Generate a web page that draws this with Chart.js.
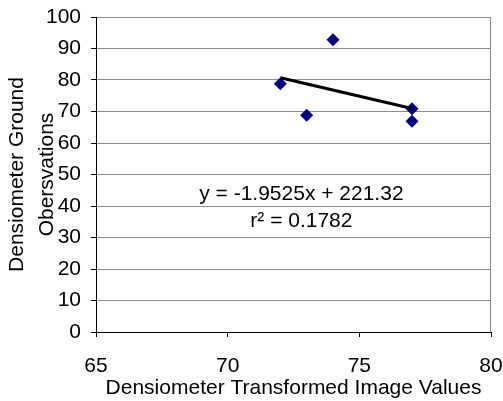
<!DOCTYPE html>
<html>
<head>
<meta charset="utf-8">
<title>Densiometer comparison</title>
<script src="https://cdn.jsdelivr.net/npm/chart.js@4/dist/chart.umd.min.js"></script>
<style>
  html, body { margin: 0; padding: 0; background: #ffffff; }
  #wrap { width: 503px; height: 401px; }
</style>
</head>
<body>
<div id="wrap"><canvas id="chart" width="503" height="401"></canvas></div>
<script>
// Image-derived densiometer values (x) against ground observations (y)
const imageValues = [72, 73, 74, 77, 77];
const groundValues = [78.8, 68.8, 92.8, 70.9, 66.9];

// Linear fit reported on the chart
const trendSlope = -1.9525;
const trendIntercept = 221.32;
const trendR2 = 0.1782;
const trendSpan = [72, 77];

// Axis ticks
const xTicks = [65, 70, 75, 80];
const yTicks = [0, 10, 20, 30, 40, 50, 60, 70, 80, 90, 100];

const xTitle = 'Densiometer Transformed Image Values';
const yTitle = ['Densiometer Ground', 'Obersvations'];

const FONT = '"Liberation Sans", Arial, Helvetica, sans-serif';
const GRID = '#8c8c8c';

const scatterPoints = imageValues.map((x, i) => ({ x: x, y: groundValues[i] }));
const trendPoints = trendSpan.map(x => ({ x: x, y: trendSlope * x + trendIntercept }));

const eqLines = [
  'y = ' + trendSlope + 'x + ' + trendIntercept,
  'r\u00B2 = ' + trendR2
];

// Gray frame on the right-hand side of the plot area
const plotFrame = {
  id: 'plotFrame',
  beforeDatasetsDraw(chart) {
    const { ctx, chartArea: a } = chart;
    ctx.save();
    ctx.strokeStyle = GRID;
    ctx.lineWidth = 1;
    ctx.beginPath();
    const rx = Math.round(a.right) - 0.5;
    ctx.moveTo(rx, Math.round(a.top));
    ctx.lineTo(rx, Math.round(a.bottom));
    ctx.stroke();
    ctx.restore();
  }
};

// Writes the regression equation and r² inside the plot
const equationLabel = {
  id: 'equationLabel',
  afterDatasetsDraw(chart, args, opts) {
    const { ctx, scales } = chart;
    const px = scales.x.getPixelForValue(opts.x);
    const py = scales.y.getPixelForValue(opts.y);
    ctx.save();
    ctx.font = '21px ' + FONT;
    ctx.fillStyle = '#000000';
    ctx.textAlign = 'center';
    ctx.textBaseline = 'alphabetic';
    eqLines.forEach((line, i) => ctx.fillText(line, px, py + i * opts.lineGap));
    ctx.restore();
  }
};

new Chart(document.getElementById('chart'), {
  type: 'scatter',
  data: {
    datasets: [
      {
        type: 'line',
        label: 'Linear fit',
        data: trendPoints,
        borderColor: '#000000',
        borderWidth: 3,
        pointRadius: 0,
        fill: false,
        order: 0
      },
      {
        label: 'Observations',
        data: scatterPoints,
        pointStyle: 'rectRot',
        pointRadius: 6.5,
        pointHoverRadius: 6.5,
        backgroundColor: '#000080',
        borderColor: '#000080',
        borderWidth: 0,
        order: 1
      }
    ]
  },
  options: {
    responsive: false,
    animation: false,
    devicePixelRatio: 1,
    layout: { padding: { left: 3, top: 17, right: 12, bottom: 0 } },
    plugins: {
      legend: { display: false },
      tooltip: { enabled: false },
      equationLabel: { x: 72.8, y: 41.8, lineGap: 27 }
    },
    scales: {
      x: {
        type: 'linear',
        min: xTicks[0],
        max: xTicks[xTicks.length - 1],
        afterBuildTicks: scale => { scale.ticks = xTicks.map(v => ({ value: v })); },
        afterFit: scale => {
          scale.height = 69;
          scale.paddingLeft = 0;
          scale.paddingRight = 0;
        },
        ticks: {
          font: { family: FONT, size: 21 },
          color: '#000000',
          padding: 17,
          maxRotation: 0
        },
        grid: {
          drawOnChartArea: false,
          tickColor: '#000000',
          tickLength: 5,
          lineWidth: 1
        },
        border: { color: '#000000', width: 1 },
        title: {
          display: true,
          text: xTitle,
          color: '#000000',
          font: { family: FONT, size: 21, lineHeight: 1.2 },
          padding: { top: 0, bottom: 0 }
        }
      },
      y: {
        type: 'linear',
        min: yTicks[0],
        max: yTicks[yTicks.length - 1],
        afterBuildTicks: scale => { scale.ticks = yTicks.map(v => ({ value: v })); },
        afterFit: scale => {
          scale.width = 93;
          scale.paddingTop = 0;
          scale.paddingBottom = 0;
        },
        ticks: {
          font: { family: FONT, size: 21 },
          color: '#000000',
          padding: 10
        },
        grid: {
          color: c => (c.tick && c.tick.value === 0 ? 'rgba(0,0,0,0)' : GRID),
          tickColor: '#000000',
          tickLength: 5,
          lineWidth: 1
        },
        border: { color: '#000000', width: 1 },
        title: {
          display: true,
          text: yTitle,
          color: '#000000',
          font: { family: FONT, size: 21, lineHeight: 1.4 },
          padding: { top: 0, bottom: 0 }
        }
      }
    }
  },
  plugins: [plotFrame, equationLabel]
});
</script>
</body>
</html>
